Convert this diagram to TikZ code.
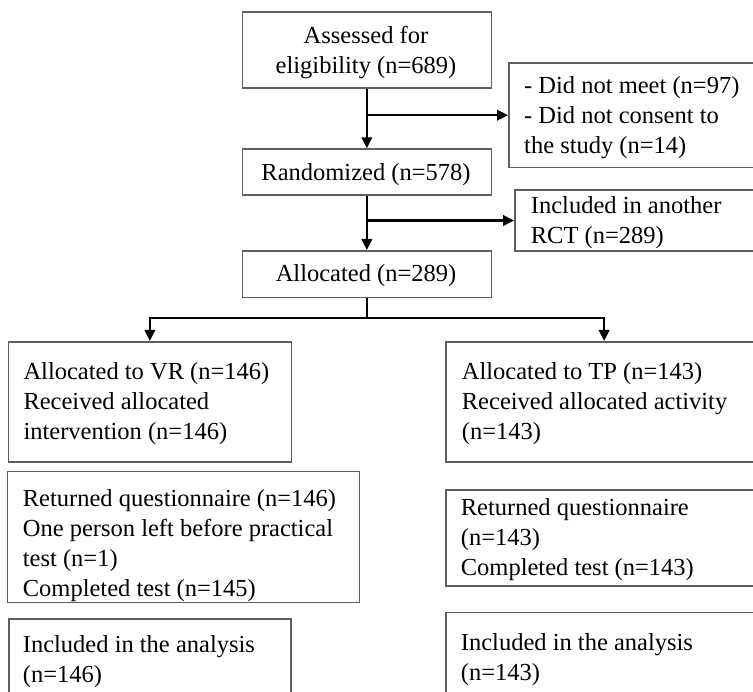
\documentclass[tikz,border=0pt]{standalone}
\usepackage{fontspec}
\setmainfont{Liberation Serif}
\usetikzlibrary{arrows.meta}
\definecolor{boxgray}{RGB}{95,95,95}
\newcommand{\leftlines}[1]{\vtop{\baselineskip=30pt\lineskiplimit=-20pt\halign{##\hfil\cr#1\crcr}}}
\newcommand{\midlines}[1]{\vtop{\baselineskip=30pt\lineskiplimit=-20pt\halign{\hfil##\hfil\cr#1\crcr}}}
\begin{document}
\begin{tikzpicture}[x=1pt,y=-1pt,
  box/.style={draw=boxgray,line width=1.7pt,rectangle,inner sep=0pt,anchor=north west},
  txt/.style={inner sep=0pt,anchor=base west,font=\fontsize{24.5}{30}\selectfont},
  ctxt/.style={inner sep=0pt,anchor=base,font=\fontsize{24.5}{30}\selectfont},
  conn/.style={line width=2.1pt,black},
  arr/.style={conn,-{Triangle[length=11pt,width=10.5pt]}}]
\useasboundingbox (0,0) rectangle (753,692);
\clip (0,0) rectangle (753,692);
% boxes
\node[box,minimum width=249pt,minimum height=76.5pt] (A) at (241.5,11) {};
\node[box,minimum width=270pt,minimum height=104.7pt] (E) at (508,62) {};
\node[box,minimum width=249pt,minimum height=45.7pt] (R) at (241.5,148.3) {};
\node[box,minimum width=270pt,minimum height=60.7pt] (I) at (514,189.3) {};
\node[box,minimum width=249pt,minimum height=46.7pt] (L) at (241.5,250) {};
\node[box,minimum width=283pt,minimum height=120pt] (V1) at (7.5,341) {};
\node[box,minimum width=316.6pt,minimum height=120pt] (T1) at (445,341) {};
\node[box,minimum width=352pt,minimum height=131pt] (V2) at (6.5,470.7) {};
\node[box,minimum width=316.6pt,minimum height=96pt] (T2) at (445,489.3) {};
\node[box,minimum width=282.3pt,minimum height=100pt] (V3) at (8,618) {};
\node[box,minimum width=316.6pt,minimum height=100pt] (T3) at (445,611.7) {};
% texts
\node[ctxt] (tA) at (366,43.5) {\midlines{Assessed for\cr eligibility (n=689)}};
\node[txt] (tE) at (524,94) {\leftlines{- Did not meet (n=97)\cr - Did not consent to\cr the study (n=14)}};
\node[ctxt] (tR) at (366,180.7) {Randomized (n=578)};
\node[txt] (tI) at (530.7,214) {\leftlines{Included in another\cr RCT (n=289)}};
\node[ctxt] (tL) at (366,281.7) {Allocated (n=289)};
\node[txt] (tV1) at (23.3,380) {\leftlines{Allocated to VR (n=146)\cr Received allocated\cr intervention (n=146)}};
\node[txt] (tT1) at (461.7,379.5) {\leftlines{Allocated to TP (n=143)\cr Received allocated activity\cr (n=143)}};
\node[txt] (tV2) at (22.7,506.5) {\leftlines{Returned questionnaire (n=146)\cr One person left before practical\cr test (n=1)\cr Completed test (n=145)}};
\node[txt] (tT2) at (460.7,516) {\leftlines{Returned questionnaire\cr (n=143)\cr Completed test (n=143)}};
\node[txt] (tV3) at (22.7,652.5) {\leftlines{Included in the analysis\cr (n=146)}};
\node[txt] (tT3) at (460.7,650) {\leftlines{Included in the analysis\cr (n=143)}};
% connectors
\draw[arr] (A.south) -- (R.north);
\draw[arr] (A.south |- E.west) -- (E.west);
\draw[arr] (R.south) -- (L.north);
\draw[arr] (R.south |- I.west) -- (I.west);
\coordinate (split) at (L.south |- 0,318.3);
\draw[conn] (L.south) -- (split);
\draw[arr] (split) -| (V1.north);
\draw[arr] (split) -| (T1.north);
\end{tikzpicture}
\end{document}
